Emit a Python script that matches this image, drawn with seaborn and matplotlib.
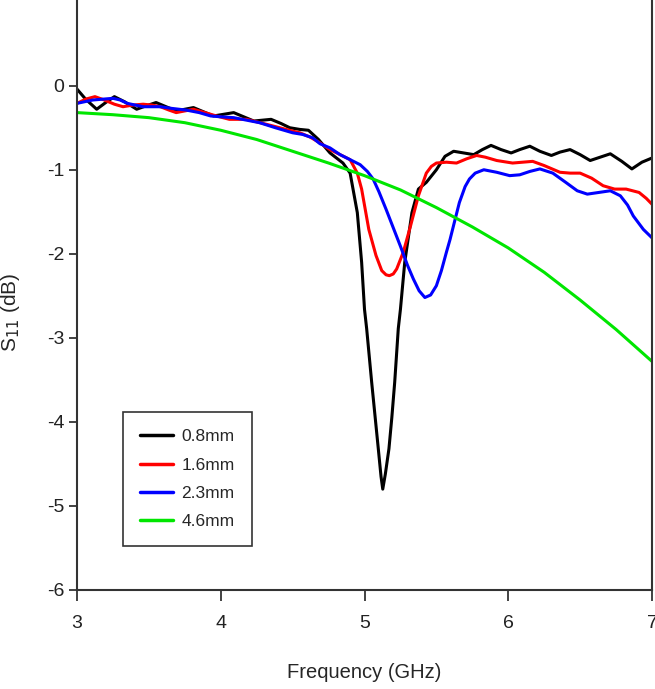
import numpy as np
import pandas as pd
import matplotlib
matplotlib.use("Agg")
import matplotlib.pyplot as plt
import seaborn as sns

# ---- data ----
labels = ["0.8mm", "1.6mm", "2.3mm", "4.6mm"]
colors = ["#000000", "#ff0000", "#0000ff", "#00e600"]

f_08 = [3.00, 3.06, 3.137, 3.20, 3.26, 3.33, 3.415, 3.48, 3.55, 3.62, 3.69, 3.75, 3.81, 3.88,
        3.95, 4.02, 4.09, 4.16, 4.23, 4.29, 4.35, 4.42, 4.48, 4.55, 4.61, 4.68, 4.76, 4.85,
        4.90, 4.95, 4.98, 5.00, 5.015, 5.05, 5.096, 5.115, 5.127, 5.145, 5.17, 5.19, 5.21,
        5.235, 5.25, 5.28, 5.33, 5.375, 5.43, 5.50, 5.56, 5.62, 5.69, 5.76, 5.82, 5.88, 5.95,
        6.02, 6.08, 6.15, 6.22, 6.30, 6.36, 6.43, 6.50, 6.57, 6.64, 6.71, 6.79, 6.86, 6.93, 7.00]
s_08 = [-0.04, -0.16, -0.28, -0.20, -0.13, -0.19, -0.28, -0.24, -0.20, -0.25, -0.30, -0.28,
        -0.26, -0.31, -0.36, -0.34, -0.32, -0.37, -0.42, -0.41, -0.40, -0.45, -0.50, -0.52,
        -0.53, -0.64, -0.80, -0.92, -1.04, -1.51, -2.10, -2.66, -2.89, -3.53, -4.32, -4.65,
        -4.80, -4.62, -4.32, -3.95, -3.53, -2.89, -2.66, -2.10, -1.51, -1.23, -1.15, -1.00,
        -0.84, -0.78, -0.80, -0.82, -0.76, -0.71, -0.76, -0.80, -0.76, -0.72, -0.78, -0.83,
        -0.79, -0.76, -0.82, -0.89, -0.85, -0.81, -0.90, -0.99, -0.91, -0.86]

f_16 = [3.00, 3.06, 3.125, 3.19, 3.26, 3.32, 3.39, 3.46, 3.52, 3.58, 3.64, 3.69, 3.75, 3.81,
        3.89, 3.97, 4.06, 4.12, 4.18, 4.25, 4.32, 4.41, 4.50, 4.55, 4.62, 4.69, 4.76, 4.83,
        4.90, 4.95, 4.98, 5.03, 5.08, 5.12, 5.15, 5.173, 5.20, 5.224, 5.27, 5.32, 5.375, 5.43,
        5.465, 5.50, 5.57, 5.64, 5.71, 5.78, 5.84, 5.92, 6.03, 6.10, 6.17, 6.25, 6.36, 6.43,
        6.50, 6.58, 6.66, 6.74, 6.82, 6.91, 6.96, 7.00]
s_16 = [-0.21, -0.16, -0.13, -0.17, -0.22, -0.25, -0.23, -0.22, -0.23, -0.25, -0.29, -0.32,
        -0.30, -0.28, -0.32, -0.36, -0.40, -0.40, -0.40, -0.43, -0.46, -0.50, -0.54, -0.56,
        -0.61, -0.68, -0.76, -0.82, -0.88, -1.04, -1.23, -1.71, -2.02, -2.20, -2.25, -2.26,
        -2.24, -2.18, -1.98, -1.67, -1.31, -1.04, -0.96, -0.92, -0.91, -0.92, -0.87, -0.83,
        -0.85, -0.89, -0.92, -0.91, -0.90, -0.95, -1.03, -1.04, -1.04, -1.10, -1.19, -1.23,
        -1.23, -1.27, -1.34, -1.41]

f_23 = [3.00, 3.11, 3.25, 3.30, 3.35, 3.46, 3.58, 3.66, 3.76, 3.85, 3.93, 4.00, 4.09, 4.18,
        4.27, 4.38, 4.50, 4.57, 4.64, 4.69, 4.76, 4.83, 4.90, 4.97, 5.02, 5.06, 5.10, 5.15,
        5.20, 5.25, 5.30, 5.34, 5.38, 5.42, 5.46, 5.50, 5.535, 5.57, 5.595, 5.62, 5.66, 5.70,
        5.73, 5.77, 5.83, 5.92, 6.01, 6.08, 6.15, 6.22, 6.31, 6.40, 6.48, 6.55, 6.63, 6.71,
        6.78, 6.83, 6.87, 6.94, 7.00]
s_23 = [-0.21, -0.17, -0.15, -0.17, -0.21, -0.25, -0.25, -0.27, -0.29, -0.32, -0.36, -0.37,
        -0.38, -0.41, -0.44, -0.50, -0.56, -0.58, -0.62, -0.69, -0.74, -0.82, -0.88, -0.94,
        -1.02, -1.11, -1.26, -1.47, -1.69, -1.91, -2.14, -2.30, -2.44, -2.52, -2.49, -2.38,
        -2.20, -1.98, -1.83, -1.66, -1.39, -1.20, -1.11, -1.04, -1.00, -1.03, -1.07, -1.06,
        -1.02, -0.99, -1.04, -1.15, -1.25, -1.29, -1.27, -1.25, -1.31, -1.42, -1.55, -1.71,
        -1.81]

f_46 = [3.00, 3.25, 3.50, 3.75, 4.00, 4.25, 4.50, 4.75, 5.00, 5.25, 5.50, 5.75, 6.00, 6.25,
        6.50, 6.75, 7.00]
s_46 = [-0.32, -0.345, -0.38, -0.44, -0.53, -0.64, -0.78, -0.92, -1.07, -1.24, -1.45, -1.68,
        -1.93, -2.22, -2.55, -2.90, -3.28]

x_ticks = [3, 4, 5, 6, 7]
y_ticks = [0, -1, -2, -3, -4, -5, -6]

# ---- build table ----
frames = []
for lab, f, s in zip(labels, [f_08, f_16, f_23, f_46], [s_08, s_16, s_23, s_46]):
    frames.append(pd.DataFrame({"Frequency": f, "S11": s, "Thickness": lab}))
df = pd.concat(frames, ignore_index=True)

sns.set_style("white")
plt.rcParams["font.family"] = ["Liberation Sans", "DejaVu Sans"]
plt.rcParams["axes.unicode_minus"] = False

fig = plt.figure(figsize=(6.55, 6.89), dpi=100)
ax = fig.add_axes([77 / 655, 99 / 689, 575 / 655, 590 / 689])

sns.lineplot(data=df, x="Frequency", y="S11", hue="Thickness", hue_order=labels,
             palette=colors, sort=False, estimator=None, linewidth=2.2, ax=ax)
for ln in ax.get_lines():
    ln.set_solid_joinstyle("round")

ax.set_xlim(3, 7)
ax.set_ylim(-6, 86 / 84.33)
ax.set_xticks(x_ticks)
ax.set_yticks(y_ticks)
ax.set_xticklabels([str(t) for t in x_ticks])
ax.set_yticklabels([str(t) for t in y_ticks])

for side in ["left", "bottom", "right"]:
    ax.spines[side].set_visible(True)
    ax.spines[side].set_color("#333333")
    ax.spines[side].set_linewidth(1.5)
ax.spines["top"].set_visible(False)

ax.tick_params(axis="x", direction="out", length=8, width=1.2, colors="#222222",
               labelsize=14, pad=10, bottom=True)
ax.tick_params(axis="y", direction="out", length=6, width=1.2, colors="#222222",
               labelsize=14, pad=3, left=True)

ax.set_xlabel("Frequency (GHz)", fontsize=14.5, labelpad=22)
ax.set_ylabel(r"S$_{11}$ (dB)", fontsize=15)
ax.yaxis.set_label_coords(-0.096, 0.47)

leg = ax.legend(loc="lower left", bbox_to_anchor=(0.08, 0.074), frameon=True,
                fancybox=False, edgecolor="black", fontsize=12.5, handlelength=1.9,
                handletextpad=0.45, borderpad=1.0, labelspacing=0.75, borderaxespad=0)
leg.get_frame().set_linewidth(1.2)
for line in leg.get_lines():
    line.set_linewidth(2.5)

fig.savefig("out.png", dpi=100)
